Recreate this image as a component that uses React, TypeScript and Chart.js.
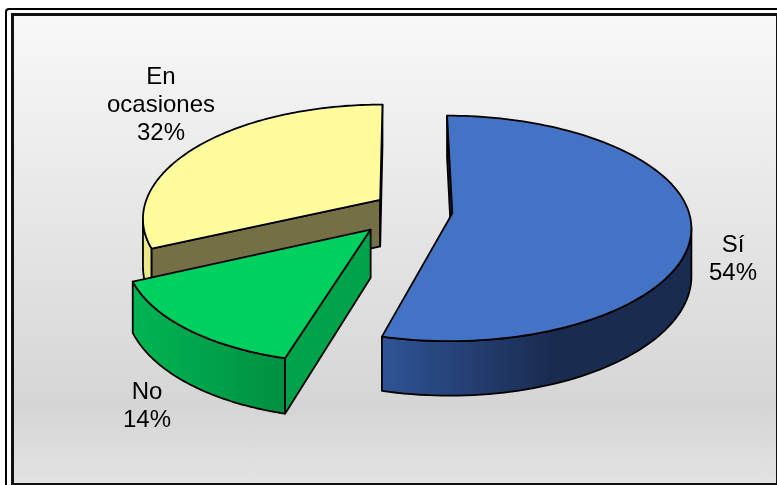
import React, { useEffect, useRef } from "react";
import { Chart, registerables } from "chart.js";

Chart.register(...registerables);

const categories = ["Sí", "No", "En ocasiones"];
const shares = [54, 14, 32];
const explodePercent = [20, 22, 13];
const sliceLift = [0, 0, -3];
const topColors = ["#4472c4", "#00d05f", "#fffc9e"];

// Outer wall shading runs left to right across the visible strip.
const wallStops: [number, string][][] = [
  [[0, "#2f5496"], [0.55, "#1a2b50"], [1, "#1a2b50"]],
  [[0, "#00b553"], [1, "#008f40"]],
  [[0, "#ece887"], [1, "#ece887"]],
];
const startFaceColors = ["#1c3058", "#00a24a", "#756f45"];
const endFaceColors = ["#1c3058", "#00a24a", "#dcd87c"];

const labelLines = [["Sí"], ["No"], ["En", "ocasiones"]];
const labelAnchors = [
  { x: 733, y: 243 },
  { x: 147, y: 390 },
  { x: 161, y: 75 },
];

const RX = 236;
const RY = 110;
const PERSPECTIVE = 0.134;
const NEAR_DRIFT = 5;
const DEPTH = 47;
const FONT = "24px 'Liberation Sans', Arial, sans-serif";
const LINE_HEIGHT = 28;

type Pt = { x: number; y: number };

// Tilted pie: slices keep the angles the doughnut controller gives them and are
// projected onto a receding plane, then extruded downwards.
const tiltedPie = {
  id: "tiltedPie",
  beforeDatasetsDraw(chart: any) {
    const ctx: CanvasRenderingContext2D = chart.ctx;
    const arcs = chart.getDatasetMeta(0).data;

    const slices = arcs.map((arc: any, i: number) => {
      const mid = (arc.startAngle + arc.endAngle) / 2;
      const e = (arc.options.offset || 0) / 100;
      const plane = (a: number, r: number) => ({
        x: r * Math.cos(a) + e * Math.cos(mid),
        y: r * Math.sin(a) + e * Math.sin(mid),
      });
      const top = (p: Pt): Pt => {
        const d = 1 - PERSPECTIVE * p.y;
        return {
          x: arc.x + (RX * p.x) / d - NEAR_DRIFT * (p.y + p.y * p.y),
          y: arc.y + (RY * p.y) / d + sliceLift[i],
        };
      };
      const bottom = (p: Pt): Pt => {
        const t = top(p);
        return { x: t.x, y: t.y + DEPTH / (1 - PERSPECTIVE * p.y) };
      };
      const steps = 120;
      const rim: Pt[] = [];
      for (let s = 0; s <= steps; s++) {
        rim.push(plane(arc.startAngle + ((arc.endAngle - arc.startAngle) * s) / steps, 1));
      }
      return { i, arc, mid, hub: plane(0, 0), rim, top, bottom };
    });

    const trace = (pts: Pt[]) => {
      ctx.beginPath();
      pts.forEach((p, k) => (k ? ctx.lineTo(p.x, p.y) : ctx.moveTo(p.x, p.y)));
    };

    ctx.save();
    ctx.lineWidth = 1.8;
    ctx.lineJoin = "round";
    ctx.strokeStyle = "#000";

    const radialFace = (s: any, rimPoint: Pt, color: string, clockwiseVisible: boolean) => {
      const a = s.top(s.hub);
      const b = s.top(rimPoint);
      const c = s.bottom(rimPoint);
      const d = s.bottom(s.hub);
      const area = (b.x - a.x) * (d.y - a.y) - (b.y - a.y) * (d.x - a.x);
      if (area > 0 !== clockwiseVisible) return;
      trace([a, b, c, d]);
      ctx.closePath();
      ctx.fillStyle = color;
      ctx.fill();
      ctx.stroke();
    };

    [...slices]
      .sort((p: any, q: any) => p.hub.y - q.hub.y)
      .forEach((s: any) => {
        // Outer wall: only the stretch of the rim that faces the viewer.
        const tops: Pt[] = s.rim.map(s.top);
        const bottoms: Pt[] = s.rim.map(s.bottom);
        const run: number[] = [];
        tops.forEach((p, k) => {
          if (k && p.x < tops[k - 1].x) {
            if (!run.length) run.push(k - 1);
            run.push(k);
          }
        });
        if (run.length) {
          const upper = run.map((k) => tops[k]);
          const lower = run.map((k) => bottoms[k]);
          const xs = upper.map((p) => p.x);
          const grad = ctx.createLinearGradient(Math.min(...xs), 0, Math.max(...xs), 0);
          // Stops are listed left to right on screen.
          wallStops[s.i].forEach(([o, c]) => grad.addColorStop(o, c));
          trace([...upper, ...lower.slice().reverse()]);
          ctx.closePath();
          ctx.fillStyle = grad;
          ctx.fill();
          ctx.stroke();
        }

        // Cut faces, drawn only when turned towards the viewer.
        radialFace(s, s.rim[0], startFaceColors[s.i], false);
        radialFace(s, s.rim[s.rim.length - 1], endFaceColors[s.i], true);

        // Top of the slice.
        trace([s.top(s.hub), ...tops]);
        ctx.closePath();
        ctx.fillStyle = s.arc.options.backgroundColor;
        ctx.fill();
        ctx.stroke();
      });

    // Category and share captions.
    ctx.fillStyle = "#000";
    ctx.font = FONT;
    ctx.textAlign = "center";
    ctx.textBaseline = "middle";
    slices.forEach((s: any) => {
      const lines = [...labelLines[s.i], `${shares[s.i]}%`];
      lines.forEach((t, k) => {
        ctx.fillText(t, labelAnchors[s.i].x, labelAnchors[s.i].y + 2 + k * LINE_HEIGHT);
      });
    });
    ctx.restore();
    return false;
  },
};

export default function App() {
  const canvasRef = useRef<HTMLCanvasElement>(null);

  useEffect(() => {
    document.body.style.margin = "0";
    const chart = new Chart(canvasRef.current as HTMLCanvasElement, {
      type: "pie",
      data: {
        labels: categories,
        datasets: [
          {
            data: shares,
            backgroundColor: topColors,
            offset: explodePercent,
            borderWidth: 0,
          },
        ],
      },
      options: {
        animation: false,
        responsive: false,
        layout: { padding: { left: 34, bottom: 64 } },
        plugins: { legend: { display: false }, tooltip: { enabled: false } },
      },
      plugins: [tiltedPie],
    } as any);
    return () => chart.destroy();
  }, []);

  return (
    <div style={{ position: "fixed", left: 0, top: 0, width: 777, height: 485, overflow: "hidden", background: "#fff" }}>
      <div
        style={{
          position: "absolute",
          left: 5,
          top: 8,
          width: 800,
          height: 500,
          border: "2px solid #000",
          borderRadius: 4,
          background: "#fff",
        }}
      />
      <div
        style={{
          position: "absolute",
          left: 11,
          top: 13,
          width: 762,
          height: 467,
          borderStyle: "solid",
          borderColor: "#111",
          borderWidth: "3px 2px 2px 3px",
          background: "linear-gradient(180deg, #f8f8f8 0%, #d5d5d5 84%, #e3e3e3 100%)",
        }}
      />
      <canvas ref={canvasRef} width={777} height={485} style={{ position: "absolute", left: 0, top: 0 }} />
    </div>
  );
}
